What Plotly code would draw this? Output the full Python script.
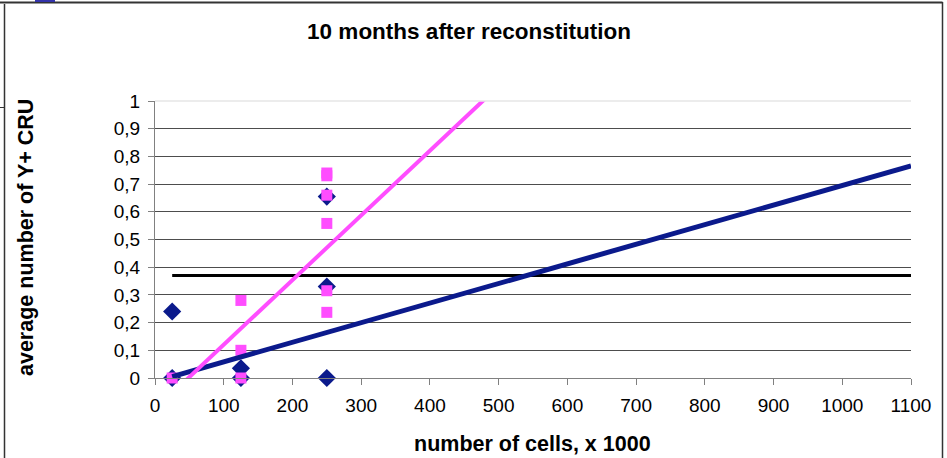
import plotly.graph_objects as go

# Measured CRU per recipient (cells injected in thousands)
blue_x = [25, 25, 125, 125, 250, 250, 250]
blue_y = [0.24, 0.0, 0.035, 0.0, 0.655, 0.33, 0.0]

pink_x = [25, 125, 125, 125, 250, 250, 250, 250, 250, 250]
pink_y = [0.0, 0.28, 0.10, 0.0, 0.74, 0.73, 0.66, 0.558, 0.315, 0.237]

# Linear trend lines (end points)
blue_trend_x = [25, 1100]
blue_trend_y = [0.005, 0.766]
pink_trend_x = [25, 500]
pink_trend_y = [-0.055, 1.054]

# Reference level
ref_x = [25, 1100]
ref_y = [0.37, 0.37]

x_ticks = list(range(0, 1101, 100))
y_ticks = [round(i * 0.1, 1) for i in range(11)]

NAVY = "#0b1a8c"
PINK = "#ff4dff"
FONT = "Liberation Sans, Arial, sans-serif"

W, H = 947, 458
L, R, T, B = 155, 36, 101, 80
PW, PH = W - L - R, H - T - B


def px(x):
    return (x - L) / PW


def py(y):
    return (H - B - y) / PH


fig = go.Figure()

fig.add_trace(go.Scatter(
    x=blue_x, y=blue_y, mode="markers", cliponaxis=False,
    marker=dict(symbol="diamond", size=14, color=NAVY, line=dict(width=0)),
    showlegend=False, hoverinfo="x+y"))
fig.add_trace(go.Scatter(
    x=pink_x, y=pink_y, mode="markers", cliponaxis=False,
    marker=dict(symbol="square", size=11, color=PINK, line=dict(width=0)),
    showlegend=False, hoverinfo="x+y"))
fig.add_trace(go.Scatter(
    x=ref_x, y=ref_y, mode="lines",
    line=dict(color="#000000", width=3), showlegend=False, hoverinfo="skip"))
fig.add_trace(go.Scatter(
    x=blue_trend_x, y=blue_trend_y, mode="lines",
    line=dict(color=NAVY, width=5), showlegend=False, hoverinfo="skip"))
fig.add_trace(go.Scatter(
    x=pink_trend_x, y=pink_trend_y, mode="lines",
    line=dict(color=PINK, width=4), showlegend=False, hoverinfo="skip"))

tick_font = dict(family=FONT, size=19, color="black")
label_font = dict(family=FONT, size=21.5, color="black")

fig.update_layout(
    width=W, height=H,
    margin=dict(l=L, r=R, t=T, b=B),
    paper_bgcolor="white", plot_bgcolor="white",
    separators=", ",
    font=dict(family=FONT, size=19, color="black"),
    title=dict(text="<b>10 months after reconstitution</b>",
               x=469 / W, xref="container", xanchor="center",
               y=1 - 31 / H, yref="container", yanchor="middle",
               font=dict(family=FONT, size=22.5, color="black")),
    xaxis=dict(range=[0, 1100], tickvals=x_ticks, showgrid=False,
               zeroline=False, showline=True, linecolor="#808080", linewidth=1,
               ticks="outside", ticklen=6, tickcolor="#808080",
               ticklabelstandoff=4, tickfont=tick_font),
    yaxis=dict(range=[0, 1], tickvals=y_ticks, tickformat=".1~f",
               showgrid=True, gridcolor="#4d4d4d", gridwidth=1,
               zeroline=False, showline=True, linecolor="#808080", linewidth=1,
               ticks="outside", ticklen=6, tickcolor="#808080",
               ticklabelstandoff=4, tickfont=tick_font),
    annotations=[
        dict(text="<b>number of cells, x 1000</b>", xref="paper", yref="paper",
             x=px(532), y=py(444), xanchor="center", yanchor="middle",
             showarrow=False, font=label_font),
        dict(text="<b>average number of Y+ CRU</b>", xref="paper", yref="paper",
             x=px(26), y=py(238), xanchor="center", yanchor="middle",
             textangle=-90, showarrow=False, font=label_font),
    ],
    shapes=[
        # outer chart frame
        dict(type="line", xref="paper", yref="paper", x0=px(0), x1=px(942.5),
             y0=py(2.5), y1=py(2.5), line=dict(color="#333333", width=2)),
        dict(type="line", xref="paper", yref="paper", x0=px(4.5), x1=px(4.5),
             y0=py(4), y1=py(460), line=dict(color="#333333", width=1.5)),
        dict(type="line", xref="paper", yref="paper", x0=px(942.5), x1=px(942.5),
             y0=py(2), y1=py(460), line=dict(color="#333333", width=1.5)),
        dict(type="line", xref="paper", yref="paper", x0=px(0), x1=px(4.5),
             y0=py(107.5), y1=py(107.5), line=dict(color="#333333", width=1)),
        dict(type="rect", xref="paper", yref="paper", x0=px(35), x1=px(55),
             y0=py(2), y1=py(-1), line=dict(width=0), fillcolor="#3333aa"),
        # light top edge of the plot area
        dict(type="line", xref="paper", yref="paper", x0=0, x1=1,
             y0=1, y1=1, line=dict(color="#e6e6e6", width=1.5)),
    ],
)

fig.write_html("out.html")
